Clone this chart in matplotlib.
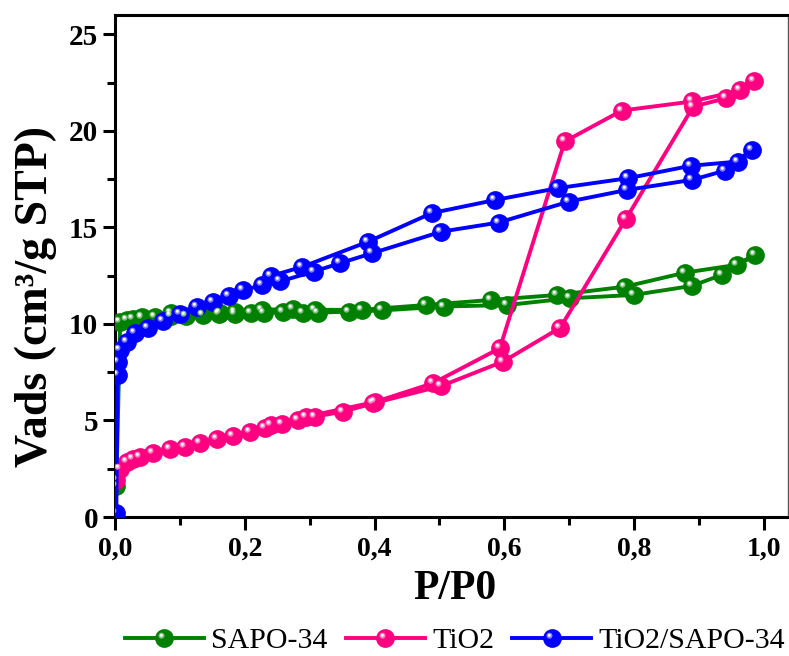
import numpy as np
import matplotlib
matplotlib.use("Agg")
import matplotlib.pyplot as plt
from matplotlib.path import Path
from matplotlib.ticker import MultipleLocator, FuncFormatter
from matplotlib.legend_handler import HandlerTuple

# ── Data (adsorption then desorption) ─────────────────────────────────────────
SAPO_P = [0.002, 0.008, 0.018, 0.028, 0.041, 0.062, 0.087, 0.110, 0.136, 0.160,
          0.185, 0.210, 0.230, 0.259, 0.290, 0.313, 0.361, 0.411, 0.507, 0.604,
          0.701, 0.799, 0.889, 0.935, 0.986,
          0.958, 0.879, 0.786, 0.681, 0.579, 0.479, 0.380, 0.308, 0.275, 0.226,
          0.185, 0.162, 0.087, 0.041]
SAPO_V = [1.6, 10.1, 10.2, 10.25, 10.3, 10.35, 10.4, 10.42, 10.45, 10.5,
          10.52, 10.55, 10.58, 10.6, 10.55, 10.58, 10.64, 10.7, 10.9, 10.98,
          11.33, 11.5, 11.97, 12.54, 13.58,
          13.06, 12.66, 11.93, 11.5, 11.24, 10.98, 10.73, 10.73, 10.78, 10.73,
          10.6, 10.59, 10.55, 10.38]

TIO2_P = [0.002, 0.008, 0.018, 0.028, 0.039, 0.059, 0.085, 0.108, 0.131, 0.157,
          0.182, 0.208, 0.231, 0.257, 0.282, 0.308, 0.352, 0.398, 0.503, 0.598,
          0.686, 0.787, 0.891, 0.942, 0.984,
          0.963, 0.889, 0.781, 0.693, 0.593, 0.490, 0.400, 0.295, 0.241]
TIO2_V = [1.9, 2.5, 2.87, 3.0, 3.1, 3.3, 3.5, 3.65, 3.85, 4.05,
          4.2, 4.4, 4.6, 4.8, 5.0, 5.2, 5.46, 5.89, 6.79, 8.05,
          9.8, 15.42, 21.26, 21.69, 22.6,
          22.09, 21.52, 21.05, 19.45, 8.74, 6.93, 5.95, 5.2, 4.75]

MIX_P = [0.002, 0.004, 0.005, 0.008, 0.018, 0.031, 0.051, 0.074, 0.100, 0.126,
         0.151, 0.175, 0.198, 0.226, 0.254, 0.306, 0.347, 0.396, 0.503, 0.591,
         0.700, 0.789, 0.889, 0.940, 0.981,
         0.960, 0.887, 0.791, 0.682, 0.586, 0.488, 0.390, 0.288, 0.241]
MIX_V = [0.19, 7.36, 8.05, 8.65, 9.08, 9.52, 9.8, 10.15, 10.5, 10.87,
         11.16, 11.45, 11.75, 12.0, 12.2, 12.71, 13.15, 13.66, 14.78, 15.25,
         16.34, 16.94, 17.46, 17.94, 19.02,
         18.41, 18.19, 17.55, 17.03, 16.42, 15.74, 14.26, 12.95, 12.49]

SERIES = [
    ("SAPO-34", SAPO_P, SAPO_V, "#008000"),
    ("TiO2", TIO2_P, TIO2_V, "#FF0080"),
    ("TiO2/SAPO-34", MIX_P, MIX_V, "#0000FF"),
]

FONT = "Liberation Serif"
MS = 13.5


def highlight_path(cx, cy, r):
    # small off-centre disc; the corner moves pin the marker scale
    circ = Path.circle((cx, cy), r)
    verts = np.vstack([[[-1, -1]], [[1, 1]], circ.vertices])
    codes = np.concatenate([[Path.MOVETO, Path.MOVETO], circ.codes])
    return Path(verts, codes)


HL_MID = highlight_path(-0.32, 0.30, 0.32)
HL_TOP = highlight_path(-0.34, 0.34, 0.16)


def blend(color, amt):
    c = np.array(matplotlib.colors.to_rgb(color))
    return tuple(c + (1 - c) * amt)


def main():
    fig = plt.figure(figsize=(7.89, 6.56), dpi=100)
    ax = fig.add_axes([115 / 789, 1 - 517 / 656, 673 / 789, 502 / 656])

    handles = []
    for name, p, v, color in SERIES:
        base, = ax.plot(p, v, "-", color=color, lw=2.8, marker="o", ms=MS,
                        mfc=color, mec=color, mew=0, zorder=3)
        mid, = ax.plot(p, v, ls="none", marker=HL_MID, ms=MS,
                       mfc=blend(color, 0.5), mew=0, zorder=3.1)
        top, = ax.plot(p, v, ls="none", marker=HL_TOP, ms=MS,
                       mfc="white", mew=0, zorder=3.2)
        handles.append((base, mid, top))

    ax.set_xlim(0, 1.037)
    ax.set_ylim(0, 26)
    ax.xaxis.set_major_locator(MultipleLocator(0.2))
    ax.xaxis.set_minor_locator(MultipleLocator(0.1))
    ax.yaxis.set_major_locator(MultipleLocator(5))
    ax.yaxis.set_minor_locator(MultipleLocator(2.5))
    ax.xaxis.set_major_formatter(FuncFormatter(lambda x, _: f"{x:.1f}".replace(".", ",")))
    ax.yaxis.set_major_formatter(FuncFormatter(lambda y, _: f"{y:.0f}"))

    for side in ["left", "bottom", "top"]:
        ax.spines[side].set_linewidth(2.2)
    ax.spines["right"].set_linewidth(1.0)
    ax.spines["right"].set_color("#555555")

    ax.tick_params(which="major", direction="out", length=9, width=2.2,
                   top=False, right=False)
    ax.tick_params(which="minor", direction="out", length=5.5, width=2.2,
                   top=False, right=False)
    ax.tick_params(axis="x", which="major", pad=5)
    ax.tick_params(axis="y", which="major", pad=3)
    for lab in ax.get_xticklabels():
        lab.set_fontfamily(FONT)
        lab.set_fontweight("bold")
        lab.set_fontsize(20)
    for lab in ax.get_yticklabels():
        lab.set_fontfamily(FONT)
        lab.set_fontweight("bold")
        lab.set_fontsize(21)

    ax.set_xlabel("P/P0", fontfamily=FONT, fontweight="bold", fontsize=30)
    ax.xaxis.set_label_coords(0.505, -0.106)
    ax.set_ylabel("Vads (cm³/g STP)", fontfamily=FONT, fontweight="bold", fontsize=33)
    ax.yaxis.set_label_coords(-0.086, 0.44)

    fig.legend(handles, [s[0] for s in SERIES],
               handler_map={tuple: HandlerTuple(ndivide=1)},
               loc="center", bbox_to_anchor=(455 / 789, 1 - 641 / 656),
               ncol=3, frameon=False, handlelength=2.65, handletextpad=0.25,
               columnspacing=0.6, borderpad=0, borderaxespad=0,
               prop={"family": FONT, "size": 21.5})

    fig.savefig("out.png", dpi=100)
    plt.close(fig)


if __name__ == "__main__":
    main()
